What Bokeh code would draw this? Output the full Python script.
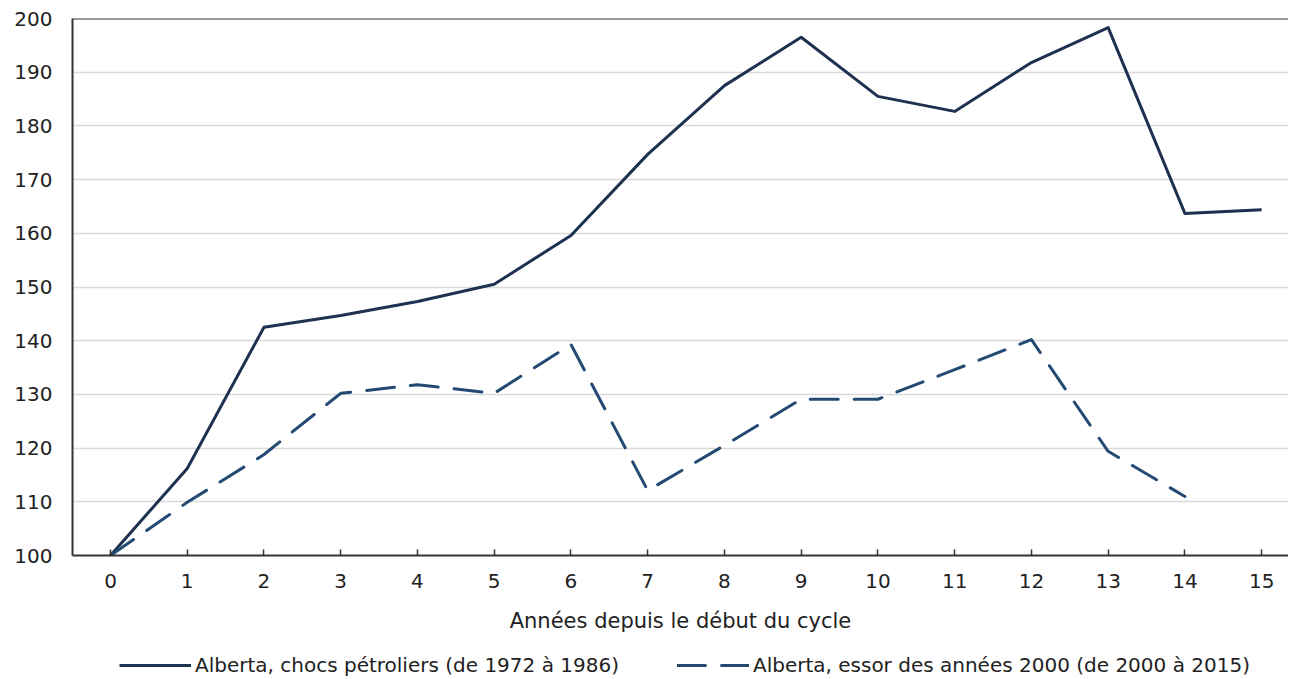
from bokeh.plotting import figure
from bokeh.layouts import column
from bokeh.models import Range1d, Legend, LegendItem, Span, FixedTicker
from bokeh.embed import file_html
from bokeh.resources import INLINE

years = list(range(16))
choc = [100, 116.2, 142.5, 144.7, 147.3, 150.5, 159.6, 174.7, 187.5, 196.5,
        185.5, 182.7, 191.8, 198.3, 163.7, 164.4]
essor_x = list(range(15))
essor = [100, 109.9, 118.8, 130.2, 131.8, 130.2, 139.3, 112.1, 120.5, 129.1,
         129.1, 134.6, 140.2, 119.4, 111.0]
y_ticks = [100, 110, 120, 130, 140, 150, 160, 170, 180, 190, 200]

label_solid = "Alberta, chocs pétroliers (de 1972 à 1986)"
label_dash = "Alberta, essor des années 2000 (de 2000 à 2015)"
xlabel = "Années depuis le début du cycle"

FONT = "DejaVu Sans"
C1 = "#1f3150"
C2 = "#234a73"
DASH = "28 16"

p = figure(frame_width=1216, frame_height=537, output_backend="svg", toolbar_location=None,
           x_range=Range1d(-0.495, 15.35), y_range=Range1d(100, 200),
           min_border_left=72, min_border_right=0, min_border_top=18,
           min_border_bottom=96)
p.outline_line_color = None
p.background_fill_color = "white"

p.line(years, choc, line_color=C1, line_width=3, line_join="round")
p.line(essor_x, essor, line_color=C2, line_width=3, line_dash=DASH, line_cap="round",
       line_join="round")

p.xgrid.grid_line_color = None
p.ygrid.grid_line_color = "#d9d9d9"
p.ygrid.grid_line_width = 1.5

p.xaxis.ticker = FixedTicker(ticks=years)
p.yaxis.ticker = FixedTicker(ticks=y_ticks)

for ax in (p.xaxis[0], p.yaxis[0]):
    ax.axis_line_color = "#333333"
    ax.axis_line_width = 2
    ax.major_label_text_font = FONT
    ax.major_label_text_font_size = "20px"
    ax.major_label_text_color = "#222222"
    ax.minor_tick_line_color = None

p.yaxis.major_tick_line_color = None
p.yaxis.major_label_standoff = 14
p.xaxis.major_tick_in = 6
p.xaxis.major_tick_out = 0
p.xaxis.major_tick_line_color = "#333333"
p.xaxis.major_tick_line_width = 1.5
p.xaxis.major_label_standoff = 18
p.xaxis.axis_label = xlabel
p.xaxis.axis_label_text_font = FONT
p.xaxis.axis_label_text_font_size = "21px"
p.xaxis.axis_label_text_font_style = "normal"
p.xaxis.axis_label_text_color = "#222222"
p.xaxis.axis_label_standoff = 18

top = Span(location=200, dimension="width", line_color="#333333", line_width=2)
p.add_layout(top)

# legend strip (its lines use the series data but fall outside its 0..1 range)
lg = figure(width=72 + 1216, height=26, output_backend="svg", toolbar_location=None,
            x_axis_type=None, y_axis_type=None, x_range=Range1d(0, 1), y_range=Range1d(0, 1),
            min_border=0)
lg.outline_line_color = None
lg.xgrid.grid_line_color = None
lg.ygrid.grid_line_color = None
d1 = lg.line(years, choc, line_color=C1, line_width=3)
d2 = lg.line(essor_x, essor, line_color=C2, line_width=3, line_dash=DASH, line_cap="round")
legend = Legend(items=[LegendItem(label=label_solid, renderers=[d1]),
                       LegendItem(label=label_dash, renderers=[d2])],
                orientation="horizontal", location=(47, 0),
                label_text_font=FONT, label_text_font_size="20px",
                label_text_color="#222222", glyph_width=72, glyph_height=10,
                spacing=58, label_standoff=4, border_line_color=None,
                background_fill_alpha=0, margin=0, padding=1)
lg.add_layout(legend, "center")

layout = column(p, lg, spacing=0)
open("out.html", "w").write(file_html(layout, INLINE))
